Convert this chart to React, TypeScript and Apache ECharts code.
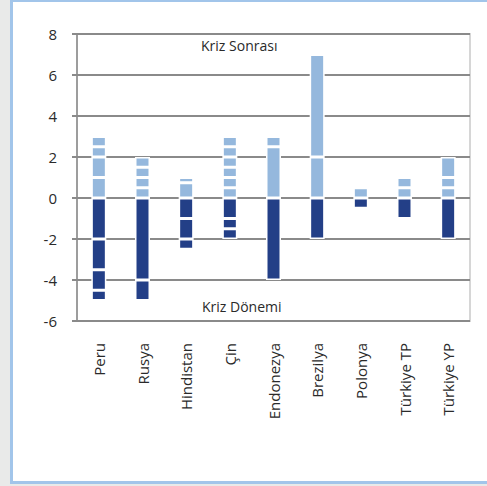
import React, { useEffect, useRef } from "react";
import * as echarts from "echarts";

// Countries on the category axis
const categories = ["Peru", "Rusya", "Hindistan", "Çin", "Endonezya", "Brezilya", "Polonya", "Türkiye TP", "Türkiye YP"];

// "Kriz Sonrası" segments per country, stacked upward from zero
const krizSonrasi: number[][] = [
  [1, 1, 0.5, 0.5],
  [0.5, 0.5, 0.5, 0.5],
  [0.75, 0.25],
  [0.5, 0.5, 0.5, 0.5, 0.5, 0.5],
  [2.5, 0.5],
  [2, 5],
  [0.5],
  [0.5, 0.5],
  [0.5, 0.5, 1],
];

// "Kriz Dönemi" segments per country, stacked downward from zero
const krizDonemi: number[][] = [
  [-2, -1.5, -1, -0.5],
  [-4, -1],
  [-1, -1, -0.5],
  [-1, -0.5, -0.5],
  [-4],
  [-2],
  [-0.5],
  [-1],
  [-2],
];

const yTicks = { min: -6, max: 8, interval: 2 };

const LIGHT = "#95b8dd";
const DARK = "#233f87";
const FONT = "'Open Sans', 'DejaVu Sans', sans-serif";

function layerSeries(segments: number[][], color: string, prefix: string) {
  const depth = Math.max(...segments.map((s) => s.length));
  const out: any[] = [];
  for (let i = 0; i < depth; i++) {
    out.push({
      name: `${prefix}${i + 1}`,
      type: "bar",
      stack: "total",
      barWidth: 15,
      data: segments.map((s) => (s[i] === undefined ? "-" : s[i])),
      itemStyle: { color, borderColor: "#ffffff", borderWidth: 1.5 },
      emphasis: { disabled: true },
    });
  }
  return out;
}

export default function App() {
  const ref = useRef<HTMLDivElement>(null);

  useEffect(() => {
    if (!ref.current) return;
    const chart = echarts.init(ref.current, undefined, { renderer: "svg" });
    chart.setOption({
      animation: false,
      grid: {
        left: 77,
        top: 34,
        right: 17,
        bottom: 165,
        show: true,
        borderColor: "#d6d6d6",
        borderWidth: 2,
        backgroundColor: "transparent",
      },
      xAxis: {
        type: "category",
        data: categories,
        axisLine: { show: false, onZero: false },
        axisTick: { show: false },
        axisLabel: {
          rotate: 90,
          margin: 22,
          fontSize: 15,
          color: "#2a2a2a",
          fontFamily: FONT,
          interval: 0,
        },
      },
      yAxis: {
        type: "value",
        min: yTicks.min,
        max: yTicks.max,
        interval: yTicks.interval,
        axisLine: { show: true, lineStyle: { color: "#8a8a8a", width: 1.5 } },
        axisTick: { show: true, length: 5, lineStyle: { color: "#8a8a8a", width: 2 } },
        axisLabel: { margin: 20, fontSize: 15, color: "#2a2a2a", fontFamily: FONT },
        splitLine: { show: true, lineStyle: { color: "#8a8a8a", width: 2 } },
      },
      series: [...layerSeries(krizSonrasi, LIGHT, "Kriz Sonrası "), ...layerSeries(krizDonemi, DARK, "Kriz Dönemi ")],
      graphic: [
        {
          type: "text",
          left: 201,
          top: 38,
          style: { text: "Kriz Sonrası", fontSize: 14, fill: "#2a2a2a", fontFamily: FONT },
        },
        {
          type: "text",
          left: 202,
          top: 299,
          style: { text: "Kriz Dönemi", fontSize: 14, fill: "#2a2a2a", fontFamily: FONT },
        },
      ],
    });
    return () => chart.dispose();
  }, []);

  return (
    <div style={{ position: "fixed", left: 0, top: 0, width: 487, height: 486, background: "#e9eae9", overflow: "hidden" }}>
      <div
        style={{
          position: "absolute",
          left: 10,
          top: 0,
          width: 490,
          height: 479,
          background: "#ffffff",
          borderLeft: "3px solid #a2c5ea",
          borderTop: "2px solid #a2c5ea",
          borderBottom: "3px solid #a2c5ea",
        }}
      />
      <div ref={ref} style={{ position: "absolute", left: 0, top: 0, width: 487, height: 486 }} />
    </div>
  );
}
